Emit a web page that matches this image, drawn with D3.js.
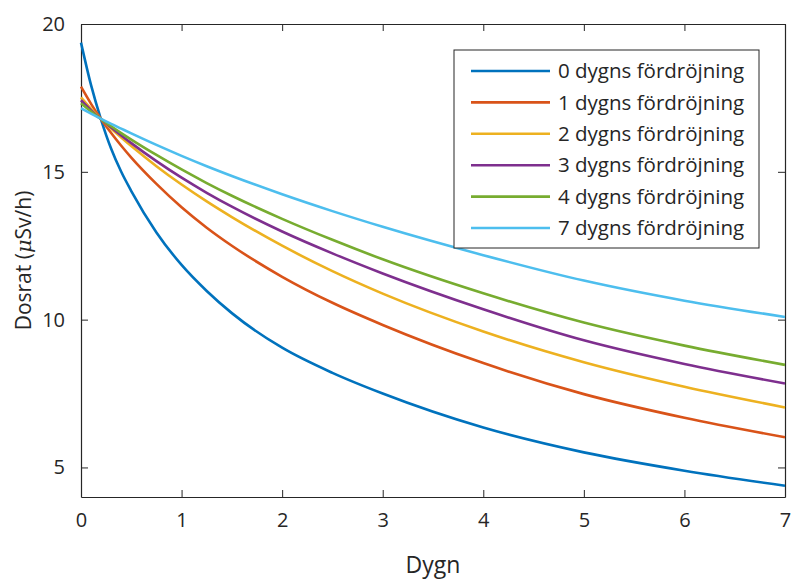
<!DOCTYPE html>
<html>
<head>
<meta charset="utf-8">
<script src="https://cdn.jsdelivr.net/npm/d3@7"></script>
<style>
  body { margin: 0; background: #fff; }
  text { font-family: "Open Sans", "Noto Sans", sans-serif; fill: #262626; }
  .axis path, .axis line { stroke: #262626; }
</style>
</head>
<body>
<div id="chart"></div>
<script>
// Data (dosrat per dygn)
var dagar = [0, 0.1, 0.2, 0.3, 0.4, 0.5, 0.75, 1, 1.25, 1.5, 2, 2.5, 3, 4, 5, 6, 7];

var fordrojning0 = [19.37, 17.93, 16.76, 15.78, 15.0, 14.35, 12.95, 11.85, 10.97, 10.22, 9.05, 8.2, 7.5, 6.35, 5.51, 4.89, 4.38];
var fordrojning1 = [17.88, 17.3, 16.78, 16.31, 15.88, 15.48, 14.59, 13.8, 13.11, 12.5, 11.45, 10.57, 9.82, 8.53, 7.48, 6.68, 6.02];
var fordrojning2 = [17.52, 17.13, 16.78, 16.46, 16.16, 15.87, 15.19, 14.57, 14.0, 13.47, 12.5, 11.64, 10.88, 9.6, 8.56, 7.73, 7.03];
var fordrojning3 = [17.42, 17.08, 16.78, 16.5, 16.23, 15.97, 15.36, 14.8, 14.29, 13.82, 12.98, 12.24, 11.56, 10.35, 9.3, 8.5, 7.84];
var fordrojning4 = [17.32, 17.04, 16.78, 16.54, 16.31, 16.09, 15.57, 15.08, 14.62, 14.19, 13.41, 12.7, 12.04, 10.89, 9.9, 9.12, 8.47];
var fordrojning7 = [17.15, 16.97, 16.79, 16.62, 16.46, 16.3, 15.91, 15.54, 15.19, 14.86, 14.24, 13.67, 13.14, 12.18, 11.32, 10.64, 10.09];

var serieNamn = ["0 dygns fördröjning", "1 dygns fördröjning", "2 dygns fördröjning",
                 "3 dygns fördröjning", "4 dygns fördröjning", "7 dygns fördröjning"];
var serieData = [fordrojning0, fordrojning1, fordrojning2, fordrojning3, fordrojning4, fordrojning7];
var farger = ["#0072BD", "#D95319", "#EDB120", "#7E2F8E", "#77AC30", "#4DBEEE"];

var xTicks = [0, 1, 2, 3, 4, 5, 6, 7];
var yTicks = [5, 10, 15, 20];

// Dimensioner
var margin = {top: 24, right: 7, bottom: 86, left: 81},
    width = 792 - margin.left - margin.right,
    height = 583 - margin.top - margin.bottom;

var x = d3.scaleLinear().domain([0, 7]).range([0, width]);
var y = d3.scaleLinear().domain([4, 20]).range([height, 0]);

var svg = d3.select("#chart")
  .append("svg")
    .attr("width", 792)
    .attr("height", 583)
  .append("g")
    .attr("transform", "translate(" + margin.left + "," + margin.top + ")");

// axlar (box med ticks inåt)
var tick = 7;
svg.append("g")
    .attr("class", "axis")
    .attr("transform", "translate(0," + height + ")")
    .call(d3.axisBottom(x).tickValues(xTicks).tickFormat(d3.format("d")).tickSizeInner(-tick).tickSizeOuter(0).tickPadding(16))
    .call(function(g) { g.selectAll("text").style("font-size", "20px"); });

svg.append("g")
    .attr("class", "axis")
    .call(d3.axisTop(x).tickValues(xTicks).tickSizeInner(-tick).tickSizeOuter(0).tickFormat(""));

svg.append("g")
    .attr("class", "axis")
    .call(d3.axisLeft(y).tickValues(yTicks).tickFormat(d3.format("d")).tickSizeInner(-tick).tickSizeOuter(0).tickPadding(16))
    .call(function(g) { g.selectAll("text").style("font-size", "20px"); });

svg.append("g")
    .attr("class", "axis")
    .attr("transform", "translate(" + width + ",0)")
    .call(d3.axisRight(y).tickValues(yTicks).tickSizeInner(-tick).tickSizeOuter(0).tickFormat(""));

svg.selectAll(".axis .domain").attr("stroke-width", 1.2);

// kurvor
var linje = d3.line()
    .x(function(d, i) { return x(dagar[i]); })
    .y(function(d) { return y(d); })
    .curve(d3.curveMonotoneX);

svg.append("g")
  .selectAll("path")
  .data(serieData)
  .enter().append("path")
    .attr("fill", "none")
    .attr("stroke", function(d, i) { return farger[i]; })
    .attr("stroke-width", 2.6)
    .attr("d", linje);

// axeltitlar
svg.append("text")
    .attr("x", width / 2)
    .attr("y", height + 76)
    .attr("text-anchor", "middle")
    .style("font-size", "23px")
    .text("Dygn");

var yl = svg.append("text")
    .attr("transform", "translate(-50," + (height / 2) + ") rotate(-90)")
    .attr("text-anchor", "middle")
    .style("font-size", "21px");
yl.append("tspan").text("Dosrat (");
yl.append("tspan").style("font-style", "italic").style("font-family", "DejaVu Serif, serif").text("μ");
yl.append("tspan").text("Sv/h)");

// legend
var lx = 454 - margin.left, ly = 50 - margin.top;
var legend = svg.append("g").attr("transform", "translate(" + lx + "," + ly + ")");
legend.append("rect")
    .attr("width", 305)
    .attr("height", 198)
    .attr("fill", "#fff")
    .attr("stroke", "#262626")
    .attr("stroke-width", 1);

var rad = legend.selectAll(".rad")
    .data(serieNamn)
  .enter().append("g")
    .attr("class", "rad")
    .attr("transform", function(d, i) { return "translate(0," + (21 + i * 31.4) + ")"; });

rad.append("line")
    .attr("x1", 17).attr("x2", 96)
    .attr("stroke", function(d, i) { return farger[i]; })
    .attr("stroke-width", 2.6);

rad.append("text")
    .attr("x", 104)
    .attr("dy", "0.35em")
    .style("font-size", "20.5px")
    .text(function(d) { return d; });
</script>
</body>
</html>
